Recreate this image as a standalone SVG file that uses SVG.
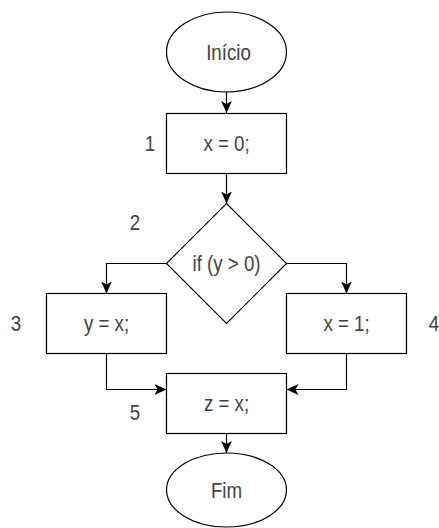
<svg xmlns="http://www.w3.org/2000/svg" width="439" height="528" viewBox="0 0 439 528">
  <style>
    .shape { fill: #ffffff; stroke: #000000; stroke-width: 1.2; }
    .conn { fill: none; stroke: #000000; stroke-width: 1.2; marker-end: url(#arrow); }
    .lbl { font-family: "Liberation Sans", Arial, Helvetica, sans-serif; font-size: 22px; fill: #444444; text-anchor: middle; dominant-baseline: central; }
  </style>
  <defs>
    <marker id="arrow" viewBox="0 0 10 10" refX="10" refY="5" markerWidth="12" markerHeight="12" markerUnits="userSpaceOnUse" orient="auto">
      <path d="M0,0.5 L10,5 L0,9.5 L2.5,5 Z" fill="#000000"/>
    </marker>
  </defs>
  <rect width="439" height="528" fill="#ffffff"/>
  <g id="connectors">
    <path class="conn" d="M226.5,92 V113"/>
    <path class="conn" d="M226.5,173.5 V203.5"/>
    <path class="conn" d="M166.5,263.5 H106.5 V293.5"/>
    <path class="conn" d="M286.5,263.5 H346.5 V293.5"/>
    <path class="conn" d="M106.5,353.5 V389.5 H166.5"/>
    <path class="conn" d="M346.5,353.5 V389.5 H286.5"/>
    <path class="conn" d="M226.5,433.5 V453"/>
  </g>
  <g id="inicio">
    <ellipse class="shape" cx="226.5" cy="52" rx="60" ry="40"/>
    <text class="lbl" transform="translate(228.5,52) scale(0.85,1)">Início</text>
  </g>
  <g id="n1">
    <rect class="shape" x="166.5" y="113.5" width="120" height="60"/>
    <text class="lbl" transform="translate(226.5,143.5) scale(0.85,1)">x = 0;</text>
  </g>
  <g id="n2">
    <polygon class="shape" points="226.5,203.5 286.5,263.5 226.5,323.5 166.5,263.5"/>
    <text class="lbl" transform="translate(226.5,263.5) scale(0.85,1)">if (y &gt; 0)</text>
  </g>
  <g id="n3">
    <rect class="shape" x="46.5" y="293.5" width="120" height="60"/>
    <text class="lbl" transform="translate(106.5,323.5) scale(0.85,1)">y = x;</text>
  </g>
  <g id="n4">
    <rect class="shape" x="286.5" y="293.5" width="120" height="60"/>
    <text class="lbl" transform="translate(346.5,323.5) scale(0.85,1)">x = 1;</text>
  </g>
  <g id="n5">
    <rect class="shape" x="166.5" y="373.5" width="120" height="60"/>
    <text class="lbl" transform="translate(226.5,403.5) scale(0.85,1)">z = x;</text>
  </g>
  <g id="fim">
    <ellipse class="shape" cx="226.5" cy="490" rx="60" ry="37"/>
    <text class="lbl" transform="translate(226.5,490) scale(0.85,1)">Fim</text>
  </g>
  <g id="labels">
    <text class="lbl" transform="translate(150,143) scale(0.85,1)">1</text>
    <text class="lbl" transform="translate(135,222) scale(0.85,1)">2</text>
    <text class="lbl" transform="translate(16,323) scale(0.85,1)">3</text>
    <text class="lbl" transform="translate(434,323) scale(0.85,1)">4</text>
    <text class="lbl" transform="translate(135,412) scale(0.85,1)">5</text>
  </g>
</svg>
